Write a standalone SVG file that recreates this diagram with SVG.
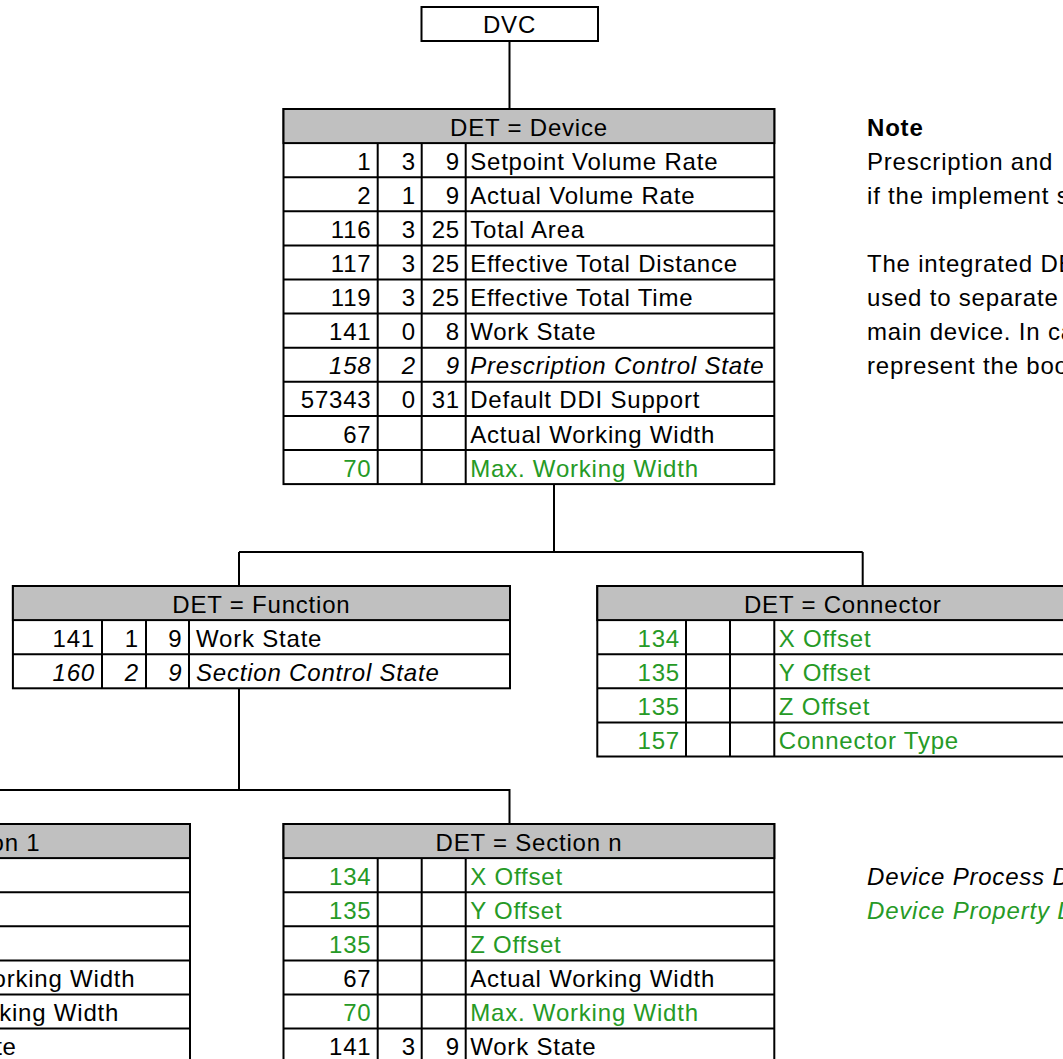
<svg xmlns="http://www.w3.org/2000/svg" width="1063" height="1059" viewBox="0 0 1063 1059">
<style>
text{font-family:"Liberation Sans",Arial,sans-serif;font-size:24px;letter-spacing:0.8px;fill:#000}
.r{text-anchor:end}
.c{text-anchor:middle}
.g{fill:#269a26}
.i{font-style:italic}
.b{font-weight:bold}
.box{fill:#fff;stroke:#000;stroke-width:2}
.hdr{fill:#c0c0c0;stroke:#000;stroke-width:2}
.ln{fill:none;stroke:#000;stroke-width:2}
</style>
<rect x="0" y="0" width="1063" height="1059" fill="#fff"/>

<g id="connectors">
<path class="ln" d="M509.5 41V109 M554 484V552 M239 552H862.7 M239 552V586 M862.7 552V586 M239 688.3V790 M-53 824V790H509.5V824"/>
</g>

<g id="dvc">
<rect class="box" x="421.5" y="7" width="176.5" height="34"/>
<text class="c" x="509.5" y="33">DVC</text>
</g>

<g id="device">
<rect class="box" x="283.5" y="109" width="490.8" height="375.1"/>
<rect class="hdr" x="283.5" y="109" width="490.8" height="34.1"/>
<path class="ln" d="M283.5 177.2H774.3M283.5 211.3H774.3M283.5 245.4H774.3M283.5 279.5H774.3M283.5 313.6H774.3M283.5 347.7H774.3M283.5 381.8H774.3M283.5 415.9H774.3M283.5 450H774.3M377.7 143.1V484.1M421.7 143.1V484.1M465.7 143.1V484.1"/>
<text class="c" x="529" y="135.6">DET = Device</text>
<text class="r" x="371.5" y="169.7">1</text><text class="r" x="416" y="169.7">3</text><text class="r" x="460" y="169.7">9</text><text x="470.2" y="169.7">Setpoint Volume Rate</text>
<text class="r" x="371.5" y="203.8">2</text><text class="r" x="416" y="203.8">1</text><text class="r" x="460" y="203.8">9</text><text x="470.2" y="203.8">Actual Volume Rate</text>
<text class="r" x="371.5" y="237.9">116</text><text class="r" x="416" y="237.9">3</text><text class="r" x="460" y="237.9">25</text><text x="470.2" y="237.9">Total Area</text>
<text class="r" x="371.5" y="272">117</text><text class="r" x="416" y="272">3</text><text class="r" x="460" y="272">25</text><text x="470.2" y="272">Effective Total Distance</text>
<text class="r" x="371.5" y="306.1">119</text><text class="r" x="416" y="306.1">3</text><text class="r" x="460" y="306.1">25</text><text x="470.2" y="306.1">Effective Total Time</text>
<text class="r" x="371.5" y="340.2">141</text><text class="r" x="416" y="340.2">0</text><text class="r" x="460" y="340.2">8</text><text x="470.2" y="340.2">Work State</text>
<text class="r i" x="371.5" y="374.3">158</text><text class="r i" x="416" y="374.3">2</text><text class="r i" x="460" y="374.3">9</text><text class="i" x="470.2" y="374.3">Prescription Control State</text>
<text class="r" x="371.5" y="408.4">57343</text><text class="r" x="416" y="408.4">0</text><text class="r" x="460" y="408.4">31</text><text x="470.2" y="408.4">Default DDI Support</text>
<text class="r" x="371.5" y="442.5">67</text><text x="470.2" y="442.5">Actual Working Width</text>
<text class="r g" x="371.5" y="476.6">70</text><text class="g" x="470.2" y="476.6">Max. Working Width</text>
</g>

<g id="function">
<rect class="box" x="12.9" y="586" width="497.1" height="102.3"/>
<rect class="hdr" x="12.9" y="586" width="497.1" height="34.1"/>
<path class="ln" d="M12.9 654.2H510M102 620.1V688.3M146 620.1V688.3M189 620.1V688.3"/>
<text class="c" x="261.4" y="612.6">DET = Function</text>
<text class="r" x="95" y="646.7">141</text><text class="r" x="139" y="646.7">1</text><text class="r" x="182.5" y="646.7">9</text><text x="196" y="646.7">Work State</text>
<text class="r i" x="95" y="680.8">160</text><text class="r i" x="139" y="680.8">2</text><text class="r i" x="182.5" y="680.8">9</text><text class="i" x="196" y="680.8">Section Control State</text>
</g>

<g id="connector">
<rect class="box" x="597.3" y="586" width="491" height="170.5"/>
<rect class="hdr" x="597.3" y="586" width="491" height="34.1"/>
<path class="ln" d="M597.3 654.2H1088.3M597.3 688.3H1088.3M597.3 722.4H1088.3M686 620.1V756.5M730 620.1V756.5M774.3 620.1V756.5"/>
<text class="c" x="842.8" y="612.6">DET = Connector</text>
<text class="r g" x="680" y="646.7">134</text><text class="g" x="778.8" y="646.7">X Offset</text>
<text class="r g" x="680" y="680.8">135</text><text class="g" x="778.8" y="680.8">Y Offset</text>
<text class="r g" x="680" y="714.9">135</text><text class="g" x="778.8" y="714.9">Z Offset</text>
<text class="r g" x="680" y="749">157</text><text class="g" x="778.8" y="749">Connector Type</text>
</g>

<g id="section1">
<rect class="box" x="-296" y="824" width="486" height="238.7"/>
<rect class="hdr" x="-296" y="824" width="486" height="34.1"/>
<path class="ln" d="M-296 892.2H190M-296 926.3H190M-296 960.4H190M-296 994.5H190M-296 1028.6H190M-202 858.1V1062.7M-158 858.1V1062.7M-114 858.1V1062.7"/>
<text class="c" x="-53" y="850.6">DET = Section 1</text>
<text x="-109.5" y="987">Actual Working Width</text>
<text x="-109.5" y="1021.1">Max. Working Width</text>
<text x="-109.5" y="1055.2">Work State</text>
</g>

<g id="section-n">
<rect class="box" x="283.5" y="824" width="490.8" height="238.7"/>
<rect class="hdr" x="283.5" y="824" width="490.8" height="34.1"/>
<path class="ln" d="M283.5 892.2H774.3M283.5 926.3H774.3M283.5 960.4H774.3M283.5 994.5H774.3M283.5 1028.6H774.3M377.7 858.1V1062.7M421.7 858.1V1062.7M465.7 858.1V1062.7"/>
<text class="c" x="529" y="850.6">DET = Section n</text>
<text class="r g" x="371.5" y="884.7">134</text><text class="g" x="470.2" y="884.7">X Offset</text>
<text class="r g" x="371.5" y="918.8">135</text><text class="g" x="470.2" y="918.8">Y Offset</text>
<text class="r g" x="371.5" y="952.9">135</text><text class="g" x="470.2" y="952.9">Z Offset</text>
<text class="r" x="371.5" y="987">67</text><text x="470.2" y="987">Actual Working Width</text>
<text class="r g" x="371.5" y="1021.1">70</text><text class="g" x="470.2" y="1021.1">Max. Working Width</text>
<text class="r" x="371.5" y="1055.2">141</text><text class="r" x="416" y="1055.2">3</text><text class="r" x="460" y="1055.2">9</text><text x="470.2" y="1055.2">Work State</text>
</g>

<g id="note">
<text class="b" x="867" y="135.6">Note</text>
<text x="867" y="169.7">Prescription and</text>
<text x="867" y="203.8">if the implement s</text>
<text x="867" y="272">The integrated DE</text>
<text x="867" y="306.1">used to separate</text>
<text x="867" y="340.2">main device. In ca</text>
<text x="867" y="374.3">represent the boo</text>
</g>

<g id="legend">
<text class="i" x="867" y="884.7">Device Process D</text>
<text class="i g" x="867" y="918.8">Device Property D</text>
</g>
</svg>
